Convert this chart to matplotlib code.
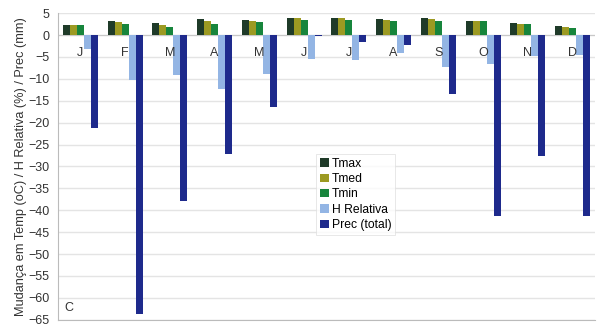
import matplotlib.pyplot as plt
import numpy as np

months = ["J", "F", "M", "A", "M", "J", "J", "A", "S", "O", "N", "D"]
tmax = [2.4, 3.3, 2.8, 3.7, 3.5, 4.0, 4.0, 3.6, 3.8, 3.2, 2.8, 2.1]
tmed = [2.3, 2.9, 2.3, 3.1, 3.3, 3.9, 3.8, 3.4, 3.6, 3.1, 2.6, 1.8]
tmin = [2.2, 2.5, 1.9, 2.5, 2.9, 3.5, 3.5, 3.1, 3.2, 3.1, 2.5, 1.5]
hrel = [-3.2, -10.3, -9.1, -12.3, -8.8, -5.5, -5.8, -4.2, -7.4, -6.6, -4.9, -4.6]
prec = [-21.3, -63.7, -37.8, -27.1, -16.4, -0.3, -1.7, -2.3, -13.5, -41.4, -27.7, -41.3]

series = [
    ("Tmax", tmax, "#1f3b29"),
    ("Tmed", tmed, "#9c9a22"),
    ("Tmin", tmin, "#17853c"),
    ("H Relativa", hrel, "#93b5e4"),
    ("Prec (total)", prec, "#1e2a8c"),
]

plt.rcParams["font.family"] = ["Liberation Sans", "DejaVu Sans"]

fig = plt.figure(figsize=(5.98, 3.28), dpi=100)
ax = fig.add_axes([0.097, 0.025, 0.898, 0.935])

x = np.arange(len(months))
w = 0.157
for i, (name, vals, col) in enumerate(series):
    ax.bar(x + (i - 2) * w, vals, w, color=col, label=name, zorder=3)

ax.set_xlim(-0.5, len(months) - 0.5)
ax.set_ylim(-65, 5)
ax.set_yticks(np.arange(-65, 6, 5))
ax.set_xticks([])
ax.tick_params(axis="y", length=0, labelsize=9, colors="#333333", pad=6)
ax.grid(axis="y", color="#e4e4e4", linewidth=1, zorder=0)
ax.axhline(0, color="#c8c8c8", linewidth=0.8, zorder=2)

for s in ["top", "right"]:
    ax.spines[s].set_visible(False)
for s in ["left", "bottom"]:
    ax.spines[s].set_color("#bbbbbb")

for xi, m in zip(x, months):
    ax.text(xi, -4.2, m, ha="center", va="center", fontsize=9, color="#333333", zorder=4)

ax.text(0.012, 0.03, "C", transform=ax.transAxes, fontsize=9, color="#333333")

ax.set_ylabel("Mudança em Temp (oC) / H Relativa (%) / Prec (mm)", fontsize=9.2,
              color="#333333", labelpad=1)

leg = ax.legend(loc="upper left", bbox_to_anchor=(0.47, 0.56), fontsize=8.7,
                frameon=True, handlelength=0.7, handleheight=0.7, handletextpad=0.3,
                labelspacing=0.28, borderpad=0.3, fancybox=False)
leg.get_frame().set_edgecolor("#dddddd")
leg.get_frame().set_linewidth(0.6)

fig.savefig("out.png", dpi=100)
